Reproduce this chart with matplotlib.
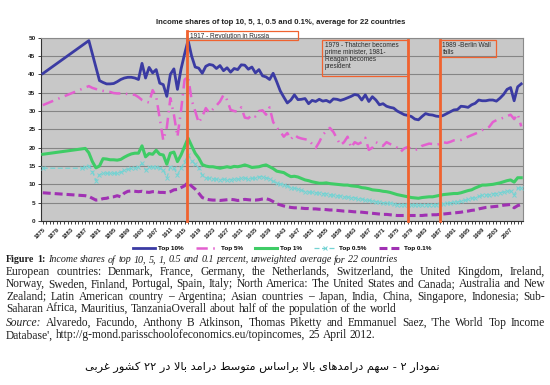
import numpy as np
import matplotlib
matplotlib.use("Agg")
import matplotlib.pyplot as plt
from matplotlib.patches import Rectangle

# ---- data ----
years = list(range(1875, 2011))

top10 = ([40.2] + [None] * 12 +
         [49.2, None, None, 38.3, 37.8, 37.4, 37.4, 37.5, 38.0, 38.6,
          39.0, 39.2, 39.2, 39.0, 38.6, 43.0, 39.0, 41.9, 40.4, 41.3,
          37.6, 37.2, 34.0, 40.0, 41.5, 35.9, 41.4, 45.5, 49.3, 45.0,
          42.0, 41.7, 40.3, 42.2, 42.7, 42.5, 41.6, 42.4, 41.0, 41.8,
          40.6, 41.6, 41.3, 42.6, 42.5, 41.4, 42.0, 40.4, 41.3, 39.6,
          39.3, 38.6, 40.3, 38.0, 35.5, 33.8, 32.2, 33.0, 34.4, 33.1,
          33.2, 33.4, 32.0, 32.9, 32.6, 33.2, 32.7, 32.9, 32.4, 33.3,
          33.2, 32.9, 33.2, 33.6, 34.0, 34.5, 34.3, 33.0, 34.4, 32.6,
          33.9, 33.0, 31.7, 32.0, 31.3, 31.0, 30.8, 30.0, 29.5, 29.0,
          28.8, 28.5, 27.8, 27.6, 28.5, 29.3, 29.0, 28.9, 28.6, 28.5,
          28.8, 29.3, 29.8, 30.3, 30.4, 31.3, 31.2, 31.0, 31.7, 32.1,
          33.0, 32.8, 32.8, 33.0, 33.0, 32.7, 33.5, 34.5, 35.9, 36.4,
          32.8, 36.6, 37.4])

top5 = ([31.6] + [None] * 12 +
        [36.8, 36.3, 36.0, 35.7, 35.5, 35.3, 35.2, 34.9, 34.8, 34.8,
         34.8, 34.6, 34.5, 34.4, 33.8, 33.0, 32.6, 32.3, 35.7, 33.9,
         28.0, 22.0, 25.5, 33.5, 29.0, 23.0, 30.0, 38.5, 39.5, 33.0,
         30.0, 26.8, 28.5, 30.8, 29.5, 30.5, 31.5, 32.6, 34.4, 33.0,
         30.3, 30.0, 29.8, 31.0, 28.2, 28.0, 29.0, 28.5, 30.0, 30.2,
         29.0, 31.0, 27.0, 25.5, 24.4, 23.0, 24.0, 22.3, 23.5, 22.8,
         22.5, 22.3, 22.1, 21.0, 19.9, 21.5, 23.5, 24.5, 25.4, 24.3,
         22.5, 20.7, 21.5, 23.0, 20.0, 21.5, 21.0, 21.5, 22.7, 19.4,
         20.0, 21.5, 21.0, 20.5, 21.5, 21.0, 20.5, 20.0, 18.9, 19.8,
         20.2, 19.6, 19.4, 19.6, 20.5, 20.8, 21.1, 21.0, 20.8, 21.0,
         21.5, 21.3, 21.6, 22.0, 22.1, 22.1, 22.5, 23.0, 23.4, 23.8,
         24.2, 24.8, 25.2, 25.7, 27.0, 27.5, 27.8, 28.2, 28.6, 29.0,
         27.8, 29.2, 25.8])

top1 = ([18.2] + [None] * 11 + [19.8] +
        [18.6, 16.2, 14.5, 15.0, 17.0, 16.9, 16.7, 16.7, 16.6, 16.8,
         17.4, 17.9, 18.3, 18.5, 18.5, 20.5, 17.5, 18.4, 18.2, 19.3,
         18.2, 18.0, 15.5, 18.5, 18.8, 16.2, 18.0, 20.3, 22.6, 20.5,
         18.5, 17.2, 15.4, 15.0, 14.8, 14.8, 14.6, 14.4, 14.6, 14.8,
         14.6, 14.9, 14.8, 15.0, 15.3, 15.0, 14.6, 14.7, 14.8, 15.1,
         15.3, 14.8, 14.3, 13.6, 13.4, 13.2, 12.6, 12.1, 12.2, 12.0,
         11.6, 11.2, 11.0, 10.7, 10.5, 10.3, 10.3, 10.4, 10.2, 10.1,
         10.0, 9.9, 9.8, 9.8, 9.6, 9.5, 9.4, 9.1, 9.0, 8.8,
         8.5, 8.4, 8.3, 8.1, 8.0, 7.8, 7.5, 7.2, 7.0, 6.8,
         6.6, 6.4, 6.3, 6.2, 6.4, 6.5, 6.6, 6.6, 6.8, 7.0,
         7.2, 7.3, 7.4, 7.5, 7.5, 7.7, 8.0, 8.3, 8.5, 9.0,
         9.4, 9.8, 9.8, 9.9, 10.0, 10.2, 10.4, 10.7, 11.0, 11.2,
         10.6, 11.8, 11.8])

top05 = ([14.4] + [None] * 10 + [14.4, 14.8] +
         [15.0, 13.5, 11.0, 12.6, 13.1, 13.0, 13.0, 13.0, 13.0, 13.3,
          13.8, 14.1, 14.4, 14.5, 14.8, 15.7, 13.9, 14.6, 14.7, 14.8,
          14.4, 13.9, 11.8, 14.8, 14.4, 12.6, 14.4, 16.2, 18.0, 16.5,
          15.5, 14.5, 12.5, 11.8, 11.6, 11.5, 11.4, 11.3, 11.4, 11.2,
          11.3, 11.5, 11.4, 11.6, 11.7, 11.5, 11.6, 11.7, 12.0, 12.1,
          11.8, 11.5, 10.8, 10.4, 10.1, 9.9, 9.6, 9.1, 8.9, 8.7,
          8.4, 8.0, 7.9, 7.8, 7.7, 7.6, 7.5, 7.4, 7.2, 7.0,
          6.9, 6.8, 6.6, 6.5, 6.4, 6.3, 6.1, 6.0, 5.8, 5.6,
          5.5, 5.3, 5.1, 5.0, 4.9, 4.8, 4.7, 4.5, 4.5, 4.4,
          4.4, 4.4, 4.3, 4.3, 4.4, 4.4, 4.5, 4.5, 4.5, 4.6,
          4.7, 4.8, 5.0, 5.1, 5.2, 5.4, 5.6, 5.9, 6.2, 6.4,
          6.7, 7.0, 7.1, 7.2, 7.4, 7.5, 7.7, 7.9, 8.1, 8.2,
          7.1, 8.9, 9.1])

top01 = ([7.7] + [None] * 11 + [6.9] +
         [6.7, 6.2, 5.7, 5.8, 6.1, 6.2, 6.5, 6.6, 6.9, 6.6,
          7.6, 8.1, 8.2, 8.1, 8.0, 8.1, 7.9, 7.8, 8.0, 8.0,
          7.8, 7.8, 7.7, 8.0, 8.5, 8.6, 9.1, 9.6, 10.5, 9.5,
          8.7, 7.6, 6.4, 6.0, 5.8, 5.7, 5.7, 5.6, 5.7, 5.8,
          5.9, 5.8, 5.6, 5.7, 5.9, 5.8, 5.7, 5.7, 5.8, 6.0,
          6.1, 5.8, 5.3, 4.7, 4.4, 4.1, 3.9, 3.7, 3.6, 3.6,
          3.5, 3.4, 3.4, 3.3, 3.3, 3.2, 3.2, 3.1, 3.0, 3.0,
          2.9, 2.8, 2.7, 2.7, 2.6, 2.5, 2.5, 2.4, 2.3, 2.2,
          2.1, 2.0, 1.9, 1.8, 1.8, 1.7, 1.6, 1.5, 1.5, 1.5,
          1.5, 1.5, 1.5, 1.5, 1.5, 1.6, 1.6, 1.7, 1.7, 1.8,
          1.9, 2.0, 2.1, 2.2, 2.3, 2.4, 2.6, 2.7, 2.9, 3.0,
          3.3, 3.5, 3.7, 3.8, 3.9, 4.0, 4.1, 4.3, 4.4, 4.5,
          3.6, 4.2, 4.5])

series_names = ["Top 10%", "Top 5%", "Top 1%", "Top 0.5%", "Top 0.1%"]

events = ["1917 - Revolution in Russia",
          "1979 - Thatcher becomes\nprime minister, 1981-\nReagan becomes\npresident",
          "1989 -Berlin Wall\nfalls"]

title = "Income shares of top 10, 5, 1, 0.5 and 0.1%, average for 22 countries"

caption = [
    "Income shares of top 10, 5, 1, 0.5 and 0.1 percent, unweighted average for 22 countries",
    "European countries: Denmark, France, Germany, the Netherlands, Switzerland, the United Kingdom, Ireland,",
    "Norway, Sweden, Finland, Portugal, Spain, Italy; North America: The United States and Canada; Australia and New",
    "Zealand; Latin American country \u2013 Argentina; Asian countries \u2013 Japan, India, China, Singapore, Indonesia; Sub-",
    "Saharan Africa, Mauritius, TanzaniaOverall about half of the population of the world",
    "Alvaredo, Facundo, Anthony B Atkinson, Thomas Piketty and Emmanuel Saez, 'The World Top Income",
    "Database', http://g-mond.parisschoolofeconomics.eu/topincomes, 25 April 2012.",
]

persian = "نمودار ۲ - سهم درامدهای بالا براساس متوسط درامد بالا در ۲۲ کشور غربی"


# ---- simple arabic shaping (matplotlib has no text shaping) ----
FORMS = {
    'ا': ('\uFE8D', '\uFE8E', None, None),
    'ب': ('\uFE8F', '\uFE90', '\uFE91', '\uFE92'),
    'ت': ('\uFE95', '\uFE96', '\uFE97', '\uFE98'),
    'د': ('\uFEA9', '\uFEAA', None, None),
    'ر': ('\uFEAD', '\uFEAE', None, None),
    'س': ('\uFEB1', '\uFEB2', '\uFEB3', '\uFEB4'),
    'ش': ('\uFEB5', '\uFEB6', '\uFEB7', '\uFEB8'),
    'ط': ('\uFEC1', '\uFEC2', '\uFEC3', '\uFEC4'),
    'غ': ('\uFECD', '\uFECE', '\uFECF', '\uFED0'),
    'ل': ('\uFEDD', '\uFEDE', '\uFEDF', '\uFEE0'),
    'م': ('\uFEE1', '\uFEE2', '\uFEE3', '\uFEE4'),
    'ن': ('\uFEE5', '\uFEE6', '\uFEE7', '\uFEE8'),
    'ه': ('\uFEE9', '\uFEEA', '\uFEEB', '\uFEEC'),
    'و': ('\uFEED', '\uFEEE', None, None),
    'ی': ('\uFBFC', '\uFBFD', '\uFBFE', '\uFBFF'),
    'ک': ('\uFB8E', '\uFB8F', '\uFB90', '\uFB91'),
}


def is_dual(c):
    return c in FORMS and FORMS[c][2] is not None


def shape_rtl(s):
    res = []
    i = 0
    while i < len(s):
        c = s[i]
        prev = s[i - 1] if i > 0 else ''
        join_prev = is_dual(prev) and c in FORMS
        if c == 'ل' and i + 1 < len(s) and s[i + 1] == 'ا':  # lam-alef
            res.append('\uFEFC' if join_prev else '\uFEFB')
            i += 2
            continue
        if c not in FORMS:
            res.append(c)
            i += 1
            continue
        nxt = s[i + 1] if i + 1 < len(s) else ''
        join_next = is_dual(c) and nxt in FORMS
        iso, fin, ini, med = FORMS[c]
        if join_prev and join_next:
            res.append(med)
        elif join_prev:
            res.append(fin)
        elif join_next:
            res.append(ini)
        else:
            res.append(iso)
        i += 1
    return ''.join(reversed(res))


def draw(ax, vals, **kw):
    v = np.array([np.nan if a is None else a for a in vals], float)
    x = np.array(years)
    m = ~np.isnan(v)
    return ax.plot(x[m], v[m], **kw)[0]


W, H = 550, 385
fig = plt.figure(figsize=(5.5, 3.85), dpi=100)
ax = fig.add_axes([41 / W, 1 - 221 / H, 482 / W, 183.3 / H])
ax.set_facecolor("#c8c8c8")

sans = "Liberation Sans"

h1 = draw(ax, top10, color="#3b3ba3", lw=2.0, zorder=3)
h2 = draw(ax, top5, color="#e35fcf", lw=1.8, dashes=(4.5, 2.2, 0.6, 2.2), zorder=3)
h3 = draw(ax, top1, color="#3fcc66", lw=2.2, zorder=3)
h4 = draw(ax, top05, color="#74d3d3", lw=0.9, ls=(0, (4, 2)), marker="x",
          ms=2.6, mew=0.7, zorder=3)
h5 = draw(ax, top01, color="#a031b3", lw=2.2, dashes=(2.6, 1.3), zorder=3)

ax.set_xlim(1874.5, 2010.5)
ax.set_ylim(0, 50)
ax.set_yticks(range(0, 51, 5))
ax.yaxis.grid(True, color="#858585", lw=0.8)
ax.set_axisbelow(True)
ax.set_xticks(range(1875, 2011, 4))
ax.set_xticks(years, minor=True)
ax.set_xticklabels([str(y) for y in range(1875, 2011, 4)], rotation=45,
                   ha="right", va="top", rotation_mode="anchor")
ax.tick_params(axis="x", which="both", length=2, width=0.6, direction="out",
               pad=2, labelsize=4.2, color="#222222")
ax.tick_params(axis="y", length=2, width=0.6, pad=2, labelsize=4.6, color="#222222")
for lab in ax.get_xticklabels() + ax.get_yticklabels():
    lab.set_fontfamily(sans)
    lab.set_fontweight("bold")
    lab.set_color("#222222")
for s in ["left", "bottom"]:
    ax.spines[s].set_color("#333333")
    ax.spines[s].set_linewidth(0.8)
for s in ["top", "right"]:
    ax.spines[s].set_color("#8a8a8a")
    ax.spines[s].set_linewidth(0.8)

# event lines and boxes
orange = "#f0622f"
ev_x = [1915.7, 1978.05, 1986.95]
ev_top = [51.8, 49.4, 49.4]
for x, t in zip(ev_x, ev_top):
    ax.plot([x, x], [0, t], color=orange, lw=2.0, clip_on=False, zorder=5)

boxes = [(1915.7, 49.4, 31.3, 2.4), (1953.8, 39.6, 24.25, 9.8), (1986.95, 44.6, 16.05, 4.8)]
for (bx, by, bw, bh), txt in zip(boxes, events):
    ax.add_patch(Rectangle((bx, by), bw, bh, fill=False, ec=orange, lw=0.9,
                           clip_on=False, zorder=4))
    ax.text(bx + 0.8, by + bh - 0.45, txt, ha="left", va="top", fontsize=4.7,
            family=sans, color="#2a2a2a", linespacing=1.05, zorder=6)

fig.text(281 / W, 1 - 22 / H, title, ha="center", va="center", fontsize=5.6,
         weight="bold", family=sans, color="#222222")

leg = fig.legend([h1, h2, h3, h4, h5], series_names, loc="center",
                 bbox_to_anchor=(282 / W, 1 - 248 / H), ncol=5, frameon=False,
                 handlelength=3.4, columnspacing=1.9, handletextpad=0.5,
                 prop={"family": sans, "size": 4.6, "weight": "bold"})

# ---- caption below the chart ----
renderer = fig.canvas.get_renderer()
cap_color = "#1e1e1e"


def text_line(parts, py, size, x0=6, x1=545, justify=True):
    arts = []
    for word, style, weight in parts:
        arts.append(fig.text(0, 1 - py / H, word, family="Liberation Serif",
                             size=size, style=style, weight=weight, va="center",
                             ha="left", color=cap_color))
    widths = [a.get_window_extent(renderer).width for a in arts]
    if justify and len(arts) > 1:
        gap = (x1 - x0 - sum(widths)) / (len(arts) - 1)
    else:
        gap = size * 100 / 72 * 0.25
    x = x0
    for a, w in zip(arts, widths):
        a.set_x(x / W)
        x += w + gap


def words(s, style="normal", weight="normal"):
    return [(w, style, weight) for w in s.split()]


BODY = 8.3
line_y = [260, 272.2, 284.4, 296.6, 308.8, 323, 335.4]
text_line(words("Figure 1:", weight="bold") + words(caption[0], style="italic"),
          line_y[0], 7.2, justify=False)
text_line(words(caption[1]), line_y[1], BODY)
text_line(words(caption[2]), line_y[2], BODY)
text_line(words(caption[3]), line_y[3], BODY)
text_line(words(caption[4]), line_y[4], BODY, justify=False)
text_line(words("Source:", style="italic") + words(caption[5]), line_y[5], BODY)
text_line(words(caption[6]), line_y[6], BODY, justify=False)

fig.text(262 / W, 1 - 367 / H, shape_rtl(persian), ha="center", va="center",
         fontsize=8.2, family=["DejaVu Sans"], color="#0a0a0a")

fig.savefig("out.png", dpi=100, facecolor="white")
